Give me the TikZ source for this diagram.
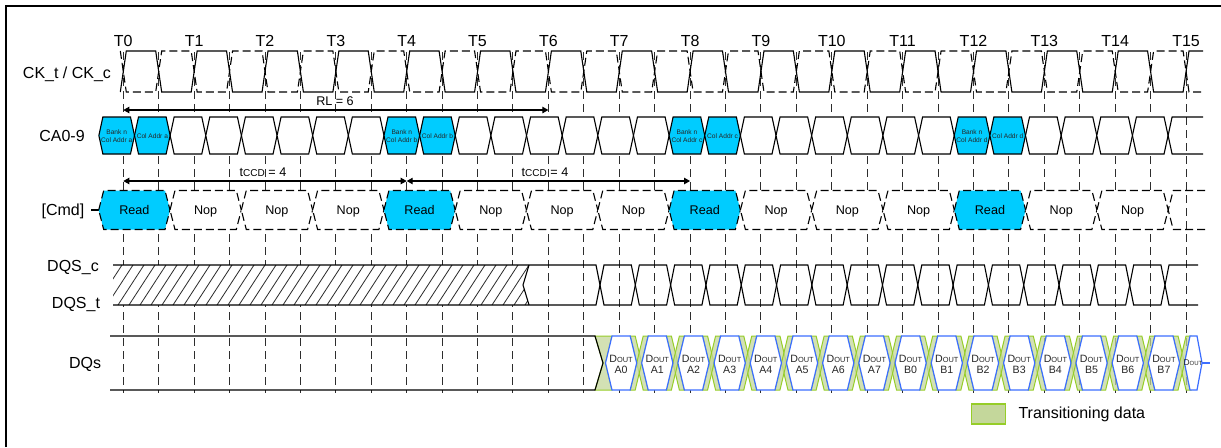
\documentclass[tikz,border=0pt]{standalone}
\usepackage{fontspec}
\setmainfont{Liberation Sans}
\usetikzlibrary{arrows.meta}
\definecolor{CmdBlue}{RGB}{0,204,255}
\definecolor{EyeBlue}{RGB}{60,110,255}
\definecolor{TransFill}{RGB}{196,215,155}
\definecolor{TransEdge}{RGB}{150,205,40}
\definecolor{GridGray}{RGB}{45,45,45}

\begin{document}
\begin{tikzpicture}[x=0.5pt,y=-0.5pt,line width=0.55pt,
  sig/.style={draw=black,line width=0.55pt},
  gridline/.style={GridGray,line width=0.5pt,dash pattern=on 4pt off 2.5pt},
  cmdbox/.style={draw=black,dash pattern=on 4pt off 2pt},
  trans/.style={draw=TransEdge,fill=TransFill,fill opacity=0.75,line width=0.5pt},
  eye/.style={draw=EyeBlue,fill=white,line width=0.6pt},
  dimline/.style={<->,>={Triangle[length=3pt,width=3.2pt]}},
  rowlbl/.style={font=\fontsize{8}{9}\selectfont,inner sep=0pt},
  cmdtxt/.style={font=\fontsize{6.3}{7}\selectfont,inner sep=0pt},
  catxt/.style={font=\fontsize{3.3}{4}\selectfont,align=center,text=black!85,inner sep=0pt},
  dqtxt/.style={font=\fontsize{5.3}{5.6}\selectfont,align=center,text=black!85,inner sep=0pt}]
\useasboundingbox (0,0) rectangle (1221,447);
\draw[line width=1pt] (6,447) -- (6,6) -- (1221,6);

\foreach \i in {0,...,30}
  \draw[gridline] ({123.3+35.425*\i},52) -- ({123.3+35.425*\i},393);

\foreach \k in {0,...,15}
  \node[rowlbl,anchor=base] (T\k) at ({123.3+70.85*\k},46) {T\k};
\node[rowlbl,anchor=base] (ck) at (67,78) {CK\_t / CK\_c};
\node[rowlbl,anchor=base] (ca) at (62,141.7) {CA0-9};
\node[rowlbl,anchor=base] (cmd) at (63,215) {[Cmd]};
\node[rowlbl,anchor=base] (dqsc) at (73,271) {DQS\_c};
\node[rowlbl,anchor=base] (dqst) at (76,308) {DQS\_t};
\node[rowlbl,anchor=base] (dqs) at (85,368) {DQs};

\draw[sig] (120.3,92) \foreach \k in {0,...,14}{ -- ({126.3+70.85*\k},51) -- ({155.7+70.85*\k},51)
  -- ({161.7+70.85*\k},92) -- ({191.2+70.85*\k},92)} -- (1189,51) -- (1203,51);
\draw[sig,dash pattern=on 4pt off 2pt] (120.3,51) \foreach \k in {0,...,14}{ -- ({126.3+70.85*\k},92) -- ({155.7+70.85*\k},92)
  -- ({161.7+70.85*\k},51) -- ({191.2+70.85*\k},51)} -- (1189,92) -- (1203,92);

\coordinate (rlA) at (123.3,110);
\coordinate (rlB) at (548.4,110);
\draw[dimline] (rlA) -- (rlB);
\node[cmdtxt,anchor=base] (rl) at (335,105) {RL = 6};

\foreach \i in {0,...,29}{
  \pgfmathsetmacro\xl{98.86+35.64*\i}
  \pgfmathsetmacro\xr{\xl+35.64}
  \pgfmathtruncatemacro\m{mod(\i,8)}
  \ifnum\m<2 \def\cellfill{CmdBlue}\else\def\cellfill{white}\fi
  \filldraw[sig,fill=\cellfill] (\xl,135.5) -- ({\xl+4},117) -- ({\xr-4},117) -- (\xr,135.5) -- ({\xr-4},154) -- ({\xl+4},154) -- cycle;
}
\draw[sig] (1203,117) -- (1172.1,117) -- (1168.1,135.5) -- (1172.1,154) -- (1203,154);
\foreach \j/\l in {0/a,1/b,2/c,3/d}{
  \pgfmathsetmacro\xl{98.86+35.64*8*\j}
  \node[catxt] (bank\l) at ({\xl+17.8},136) {Bank n\\Col Addr \l};
  \node[catxt] (col\l) at ({\xl+53.5},136) {Col Addr \l};
}

\coordinate (ccA) at (123.3,181);
\coordinate (ccB) at (406.7,181);
\coordinate (ccC) at (690.1,181);
\draw[dimline] (ccA) -- (ccB);
\draw[dimline] (ccB) -- (ccC);
\node[cmdtxt,anchor=base] (cc1) at (263,176.5) {t{\fontsize{5}{5}\selectfont CCD} = 4};
\node[cmdtxt,anchor=base] (cc2) at (545,176.5) {t{\fontsize{5}{5}\selectfont CCD} = 4};

\draw[sig] (91,210) -- (98.7,210);
\foreach \i in {0,...,14}{
  \pgfmathsetmacro\xl{98.7+71.3*\i}
  \pgfmathsetmacro\xr{\xl+71.3}
  \pgfmathtruncatemacro\m{mod(\i,4)}
  \ifnum\m=0 \def\cellfill{CmdBlue}\def\cmdname{Read}\else\def\cellfill{white}\def\cmdname{Nop}\fi
  \filldraw[cmdbox,fill=\cellfill] (\xl,210) -- ({\xl+5},190.5) -- ({\xr-5},190.5) -- (\xr,210) -- ({\xr-5},229.5) -- ({\xl+5},229.5) -- cycle;
  \node[cmdtxt,anchor=base] (cmd\i) at ({\xl+35.65},214.5) {\cmdname};
}
\draw[cmdbox] (1205,190.5) -- (1173.2,190.5) -- (1168.2,210) -- (1173.2,229.5) -- (1205,229.5);

\fill[white] (113,265) -- (529,265) -- (523,285) -- (529,305) -- (113,305) -- cycle;
\begin{scope}
\clip (113,265) -- (529,265) -- (523,285) -- (529,305) -- (113,305) -- cycle;
\foreach \x in {85,96,...,540}
  \draw[line width=0.4pt,GridGray] (\x,305) -- ({\x+26},265);
\end{scope}
\draw[sig] (113,265) -- (596,265) -- (600,285) -- (596,305) -- (113,305);
\draw[sig] (529,265) -- (523,285) -- (529,305);
\foreach \k in {0,...,15}{
  \pgfmathsetmacro\xl{600+35.31*\k}
  \pgfmathsetmacro\xr{\xl+35.31}
  \draw[sig] (\xl,285) -- ({\xl+4},265) -- ({\xr-4},265) -- (\xr,285) -- ({\xr-4},305) -- ({\xl+4},305) -- cycle;
}
\draw[sig] (1198,265) -- (1169,265) -- (1165,285) -- (1169,305) -- (1198,305);

\filldraw[trans] (595,336) -- (612,336) -- (605.5,363) -- (612,390) -- (595,390) -- (603,363) -- cycle;
\draw[sig] (110,336) -- (595,336) -- (603,363) -- (595,390) -- (110,390);
\foreach \k in {1,...,16}{
  \pgfmathsetmacro\xb{603+36.19*\k}
  \filldraw[trans] ({\xb-9},336) -- ({\xb-4},336) -- ({\xb+9},390) -- ({\xb+4},390) -- cycle;
  \filldraw[trans] ({\xb-9},390) -- ({\xb-4},390) -- ({\xb+9},336) -- ({\xb+4},336) -- cycle;
}
\foreach \k/\n in {0/A0,1/A1,2/A2,3/A3,4/A4,5/A5,6/A6,7/A7,8/B0,9/B1,10/B2,11/B3,12/B4,13/B5,14/B6,15/B7}{
  \pgfmathsetmacro\xl{603+36.19*\k}
  \pgfmathsetmacro\xr{\xl+36.19}
  \filldraw[eye] ({\xl+2.5},363) -- ({\xl+9},336) -- ({\xr-9},336) -- ({\xr-2.5},363) -- ({\xr-9},390) -- ({\xl+9},390) -- cycle;
  \node[dqtxt] (dq\n) at ({\xl+18.1},364) {D{\fontsize{3.7}{4}\selectfont OUT}\\\n};
}
\filldraw[eye] (1184.5,363) -- (1190,336) -- (1197,336) -- (1202,363) -- (1197,390) -- (1190,390) -- cycle;
\draw[EyeBlue,line width=0.6pt] (1202,363) -- (1210,363);
\node[dqtxt,font=\fontsize{4.2}{5}\selectfont] (dqlast) at (1193,363) {D{\fontsize{3}{3}\selectfont OUT}};

\node[draw=TransEdge,fill=TransFill,line width=0.8pt,minimum width=17pt,minimum height=10pt,inner sep=0pt] (legbox) at (988.5,414) {};
\node[rowlbl,anchor=base west] (legtxt) at (1018,418.3) {Transitioning data};
\end{tikzpicture}
\end{document}
